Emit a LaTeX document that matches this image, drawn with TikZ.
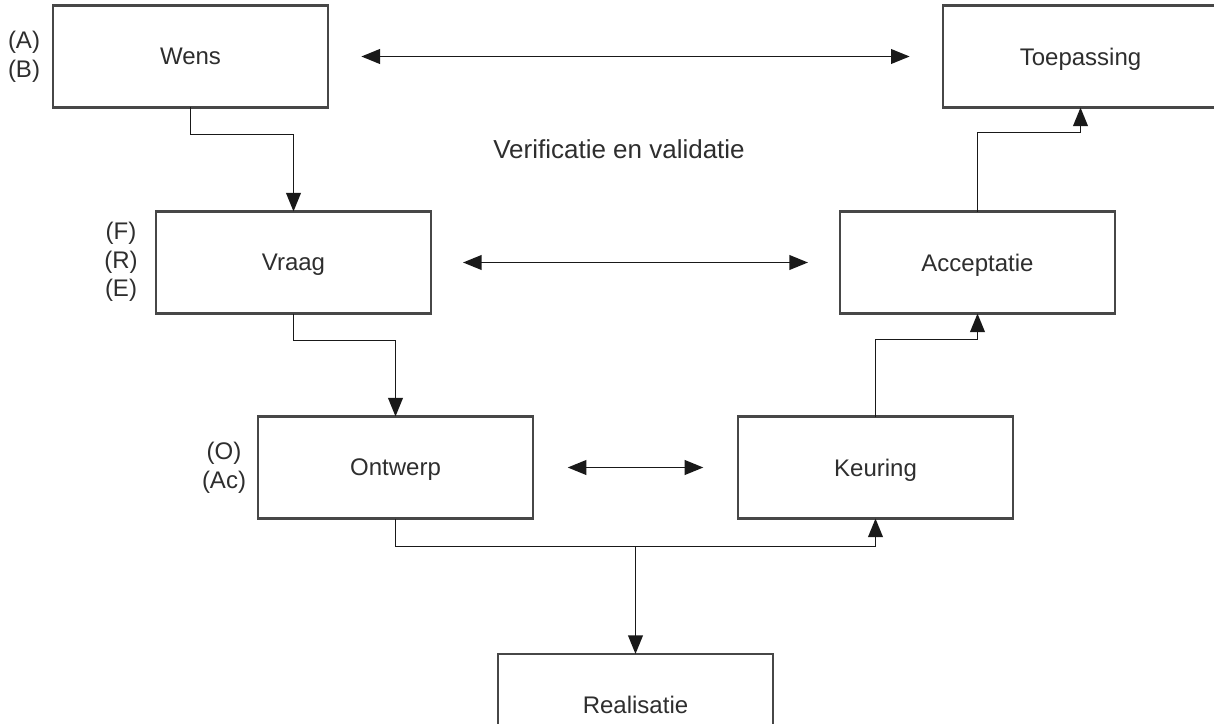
\documentclass[tikz,border=0pt]{standalone}
\usepackage{fontspec}
\setmainfont{Liberation Sans}
\usetikzlibrary{arrows.meta}
\begin{document}
\begin{tikzpicture}[x=0.75pt,y=-0.75pt,
  stagebox/.style={draw=black!72,line width=1.8pt,fill=white,rectangle,
    minimum width=206.25pt,minimum height=76.5pt,inner sep=0pt,outer sep=0pt,
    text depth=0pt,
    font=\fontsize{18}{21.5}\selectfont,text=black!82},
  sidelabel/.style={align=center,inner sep=0pt,
    font=\fontsize{18}{21.5}\selectfont,text=black!82},
  tip/.tip={Triangle[length=14pt,width=11pt]},
  conn/.style={draw=black!90,line width=1.4pt,-tip},
  both/.style={draw=black!90,line width=1.4pt,tip-tip},
]
\useasboundingbox (0,0) rectangle (1214,724);
\fill[white] (0,0) rectangle (1214,724);
\begin{scope}
\clip (0,0) rectangle (1214,724);

% left branch
\node[stagebox] (wens) at (190.5,56.5) {Wens};
\node[stagebox] (vraag) at (293.5,262.5) {Vraag};
\node[stagebox] (ontwerp) at (395.5,467.5) {Ontwerp};
% bottom
\node[stagebox] (realisatie) at (635.5,705) {Realisatie};
% right branch
\node[stagebox] (keuring) at (875.5,467.5) {Keuring};
\node[stagebox] (acceptatie) at (977.5,262.5) {Acceptatie};
\node[stagebox] (toepassing) at (1080.5,56.5) {Toepassing};

% letter codes beside the stages
\node[sidelabel] (lab1) at (24,56.5) {(A)\\(B)};
\node[sidelabel] (lab2) at (121,262) {(F)\\(R)\\(E)};
\node[sidelabel] (lab3) at (224,467.5) {(O)\\(Ac)};

\node[anchor=base west,inner sep=0pt,font=\fontsize{19.5}{23}\selectfont,text=black!82]
  (vv) at (493,158) {Verificatie en validatie};

% downward flow
\draw[conn] (wens.south) -- ++(0,27) -| (vraag.north);
\draw[conn] (vraag.south) -- ++(0,27) -| (ontwerp.north);
\draw[conn] (ontwerp.south) -- ++(0,28) coordinate (low) -| (keuring.south);
\draw[conn] (low -| realisatie.north) -- (realisatie.north);
% upward flow
\draw[conn] (keuring.north) -- ++(0,-77) -| (acceptatie.south);
\draw[conn] (acceptatie.north) -- ++(0,-79) -| (toepassing.south);

% verification links
\draw[both,shorten <=25pt,shorten >=25pt] (wens.east) -- (toepassing.west);
\draw[both,shorten <=24pt,shorten >=24pt] (vraag.east) -- (acceptatie.west);
\draw[both,shorten <=26pt,shorten >=26pt] (ontwerp.east) -- (keuring.west);
\end{scope}
\end{tikzpicture}
\end{document}
